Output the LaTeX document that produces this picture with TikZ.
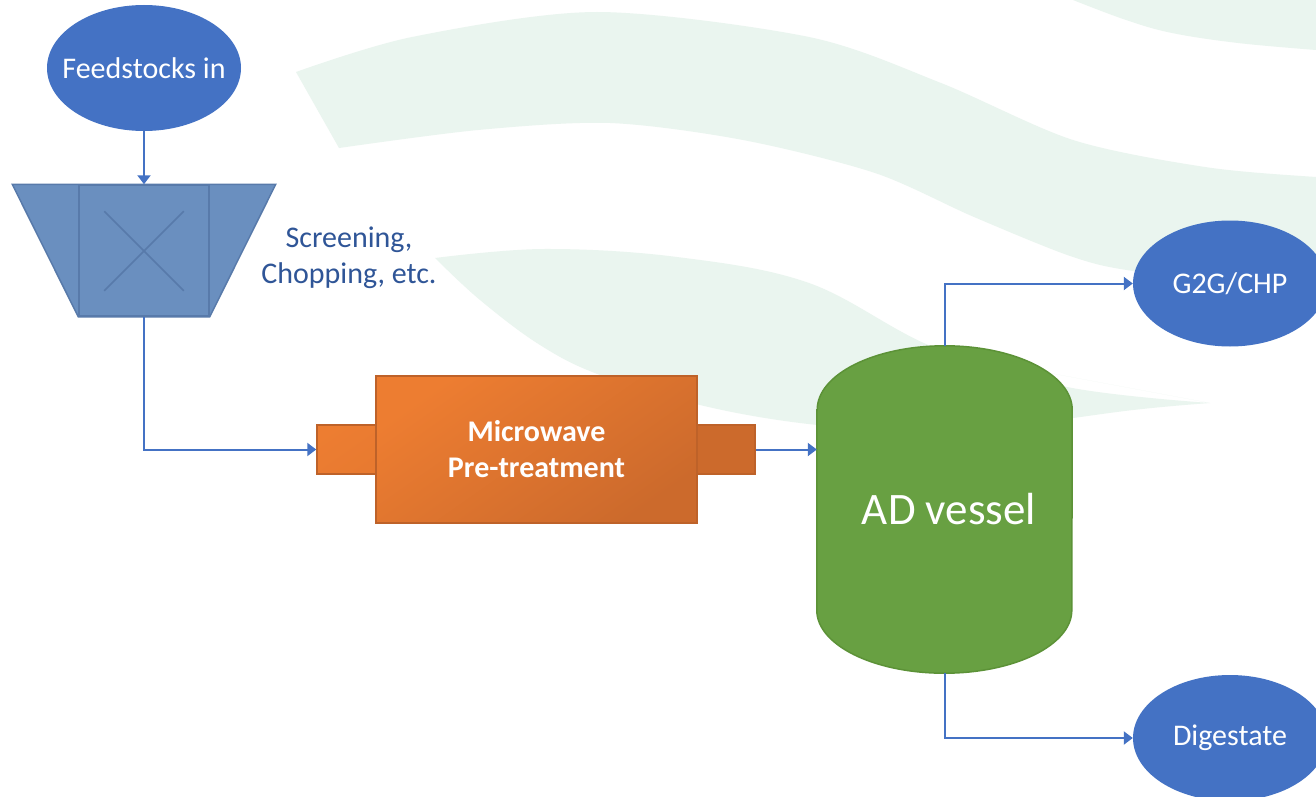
\documentclass[tikz,border=0pt]{standalone}
\usepackage{fontspec}
\setmainfont{Carlito}
\usetikzlibrary{shapes.geometric,arrows.meta}

\definecolor{flowblue}{HTML}{4472C4}
\definecolor{notetext}{HTML}{2F5597}
\definecolor{swoosh}{RGB}{234,245,239}
\definecolor{screenfill}{RGB}{106,143,191}
\definecolor{screenline}{RGB}{88,122,170}
\definecolor{mwlight}{HTML}{ED7D31}
\definecolor{mwdark}{HTML}{CC6A2C}
\definecolor{mwline}{HTML}{BE6229}
\definecolor{vesselfill}{RGB}{104,160,66}
\definecolor{vesselline}{RGB}{92,146,55}

\pgfdeclarelayer{back}
\pgfdeclarelayer{paper}
\pgfsetlayers{paper,back,main}

\begin{document}
\begin{tikzpicture}[x=1pt,y=-1pt,
  flow/.style={draw=flowblue,line width=2pt,-{Triangle[length=9pt,width=13pt]}},
  terminal/.style={ellipse,fill=flowblue,minimum width=194pt,minimum height=126pt,
    inner sep=0pt,text=white,font=\fontsize{30}{36}\selectfont},
  screenbox/.style={rectangle,fill=screenfill,draw=screenline,line width=1.5pt,
    minimum width=130pt,minimum height=131pt,inner sep=0pt},
  crossline/.style={draw=screenline,line width=1.5pt},
  note/.style={align=center,text=notetext,font=\fontsize{30}{36}\selectfont},
  mwbody/.style={rectangle,draw=mwline,line width=1.5pt,top color=mwlight,
    bottom color=mwdark,shading angle=35,minimum width=321pt,minimum height=147pt,
    inner sep=0pt,align=center,text=white,font=\bfseries\fontsize{30}{36}\selectfont},
  mwport/.style={rectangle,draw=mwline,line width=1.5pt,minimum height=49pt,inner sep=0pt},
  vesselbox/.style={rectangle,minimum width=255pt,minimum height=327pt,inner sep=0pt,
    text=white,font=\fontsize{45}{54}\selectfont}]

\useasboundingbox (0,0) rectangle (1316,797);
\clip (0,0) rectangle (1316,797);
\begin{pgfonlayer}{paper}
\fill[white] (0,0) rectangle (1316,797);
\end{pgfonlayer}

% pale background swooshes
\begin{pgfonlayer}{back}
\fill[swoosh] plot[smooth,tension=0.5] coordinates {(296,72) (412,37) (597,12) (809,37) (941,83)
    (1073,140) (1205,167) (1316,177) (1420,182) (1420,300) (1316,292) (1140,272) (1073,257)
    (974,217) (875,173) (743,140) (610,123) (478,130) (339,148)} -- cycle;
\fill[swoosh] (435,258) plot[smooth,tension=0.6] coordinates {(435,258) (544,249) (677,257) (809,283) (933,347) (1067,387) (1210,403)}
  plot[smooth,tension=0.6] coordinates {(1210,403) (1133,410) (1000,427) (900,430) (800,423) (700,405) (600,375) (540,345) (480,300) (435,258)} -- cycle;
\fill[swoosh] (1073,0) plot[smooth,tension=0.6] coordinates {(1073,0) (1126,20) (1172,33) (1238,43) (1316,50)} -- (1316,0) -- cycle;
\end{pgfonlayer}

% feed and screening
\node[terminal] (feed) at (144,68) {\makebox[0pt]{Feedstocks in}};
\node[screenbox] (screen) at (144,250.5) {};
\begin{pgfonlayer}{back}
\filldraw[fill=screenfill,draw=screenline,line width=1.5pt]
  ([xshift=-66pt]screen.north west) -- ([xshift=66pt]screen.north east)
  -- (screen.south east) -- (screen.south west) -- cycle;
\end{pgfonlayer}
\draw[crossline] ([shift={(26pt,-27pt)}]screen.north west) -- ([shift={(-26pt,26pt)}]screen.south east);
\draw[crossline] ([shift={(-26pt,-27pt)}]screen.north east) -- ([shift={(26pt,26pt)}]screen.south west);
\node[note] (note) at (349,258) {Screening,\\Chopping, etc.};

% microwave pre-treatment unit
\node[mwport,minimum width=59pt,top color=mwlight,bottom color=mwlight!85!mwdark,shading angle=35] (mwin) at (346.5,449.5) {};
\node[mwport,minimum width=58pt,fill=mwdark] (mwout) at (726,449.5) {};
\node[mwbody] (mw) at (536.5,449.5) {Microwave\\Pre-treatment};

% digester vessel
\node[vesselbox] (ad) at (944.5,509.5) {\hspace*{9pt}AD vessel};
\begin{pgfonlayer}{back}
\filldraw[fill=vesselfill,draw=vesselline,line width=1.5pt]
  ([yshift=-64pt]ad.north west) -- ([yshift=63pt]ad.south west)
  arc[start angle=180,end angle=360,x radius=127.5pt,y radius=63pt]
  -- ([yshift=-64pt]ad.north east)
  arc[start angle=0,end angle=180,x radius=127.5pt,y radius=64pt] -- cycle;
\end{pgfonlayer}

% outputs
\node[terminal] (g2g) at (1230,283.5) {\makebox[0pt]{G2G/CHP}};
\node[terminal] (dig) at (1230,738) {\makebox[0pt]{Digestate}};

% connectors
\draw[flow] (feed) -- (screen);
\draw[flow] (screen.south) |- (mwin.west);
\draw[flow] (mwout.east) -- (mwout.east -| ad.west);
\draw[flow] (ad.north) |- (g2g.west);
\draw[flow] (ad.south) |- (dig.west);

\end{tikzpicture}
\end{document}
